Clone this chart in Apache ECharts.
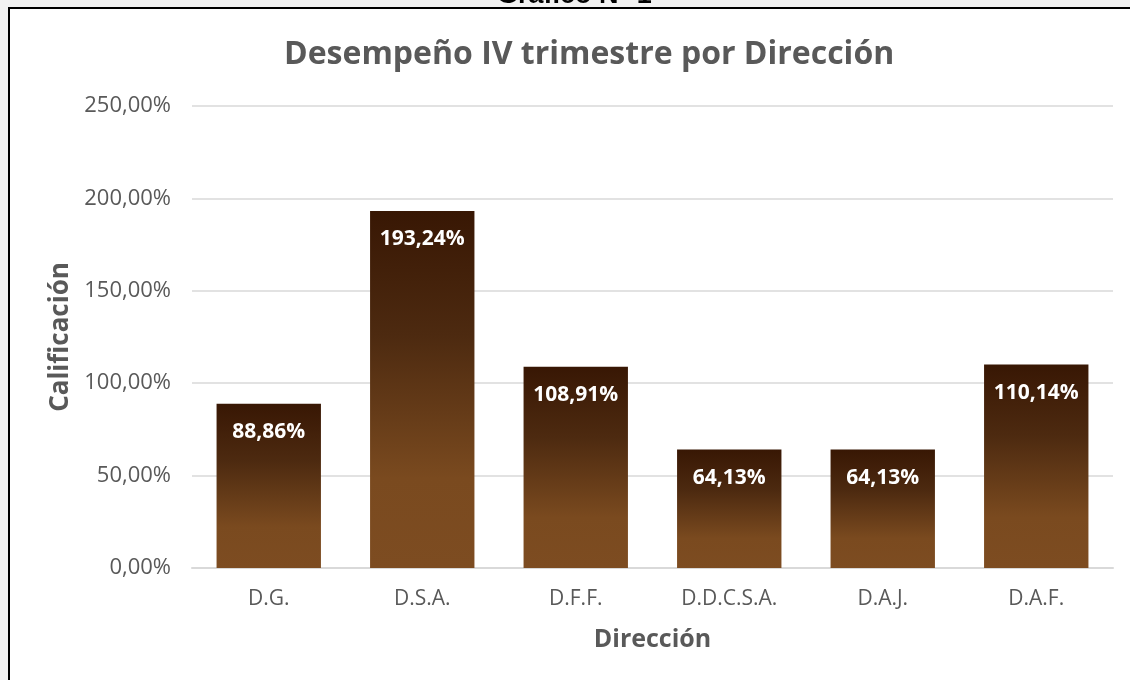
<!DOCTYPE html>
<html>
<head>
<meta charset="utf-8">
<script src="https://cdn.jsdelivr.net/npm/echarts@6/dist/echarts.min.js"></script>
<style>
  html, body { margin: 0; padding: 0; background: #f2f2f2; }
  .frame { position: absolute; left: 8px; top: 7px; width: 1130px; height: 680px;
           border-left: 2px solid #000; border-top: 2px solid #000; background: #fff; }
  #chart { position: absolute; left: 0; top: 0; width: 1130px; height: 680px; }
</style>
</head>
<body>
<div class="frame"></div>
<div id="chart"></div>
<script>
var categories = ['D.G.', 'D.S.A.', 'D.F.F.', 'D.D.C.S.A.', 'D.A.J.', 'D.A.F.'];
var values = [88.86, 193.24, 108.91, 64.13, 64.13, 110.14];
var yTicks = [0, 50, 100, 150, 200, 250];

var myChart = echarts.init(document.getElementById('chart'));
var fontMain = '"Open Sans", sans-serif';

function pct(v) {
    return v.toFixed(2).replace('.', ',') + '%';
}

option = {
    animation: false,
    graphic: [{
        type: 'text',
        left: 497,
        top: -18,
        z: 10,
        style: {
            text: 'Gráfico N° 1',
            font: 'bold 27px "Liberation Sans", Arial, sans-serif',
            fill: '#000'
        }
    }],
    title: {
        text: 'Desempeño IV trimestre por Dirección',
        left: 279,
        top: 34,
        textStyle: {
            fontFamily: fontMain,
            fontWeight: 'bold',
            fontSize: 32,
            color: '#595959'
        }
    },
    grid: {
        left: 192,
        right: 17,
        top: 106,
        bottom: 112
    },
    xAxis: {
        type: 'category',
        data: categories,
        name: 'Dirección',
        nameLocation: 'middle',
        nameGap: 59,
        nameTextStyle: {
            fontFamily: fontMain,
            fontWeight: 'bold',
            fontSize: 25,
            color: '#595959'
        },
        axisLine: { lineStyle: { color: '#d9d9d9', width: 2 } },
        axisTick: { show: false },
        axisLabel: {
            margin: 21,
            fontFamily: fontMain,
            fontSize: 21,
            color: '#595959'
        }
    },
    yAxis: {
        type: 'value',
        min: yTicks[0],
        max: yTicks[yTicks.length - 1],
        interval: 50,
        name: 'Calificación',
        nameLocation: 'middle',
        nameGap: 111,
        nameTextStyle: {
            fontFamily: fontMain,
            fontWeight: 'bold',
            fontSize: 26,
            color: '#595959'
        },
        axisLine: { show: false },
        axisTick: { show: false },
        splitLine: { lineStyle: { color: '#d9d9d9', width: 1.5 } },
        axisLabel: {
            margin: 21,
            fontFamily: fontMain,
            fontSize: 22,
            color: '#595959',
            formatter: function (v) { return pct(v); }
        }
    },
    series: [{
        type: 'bar',
        data: values,
        barWidth: '68%',
        itemStyle: {
            color: new echarts.graphic.LinearGradient(0, 0, 0, 1, [
                { offset: 0, color: '#381704' },
                { offset: 0.35, color: '#4d2a10' },
                { offset: 0.75, color: '#7a4a1f' },
                { offset: 1, color: '#7d4c21' }
            ])
        },
        label: {
            show: true,
            position: 'insideTop',
            distance: 18,
            fontFamily: fontMain,
            fontWeight: 'bold',
            fontSize: 21,
            color: '#fff',
            formatter: function (p) { return pct(p.value); }
        }
    }]
};

myChart.setOption(option);
</script>
</body>
</html>
